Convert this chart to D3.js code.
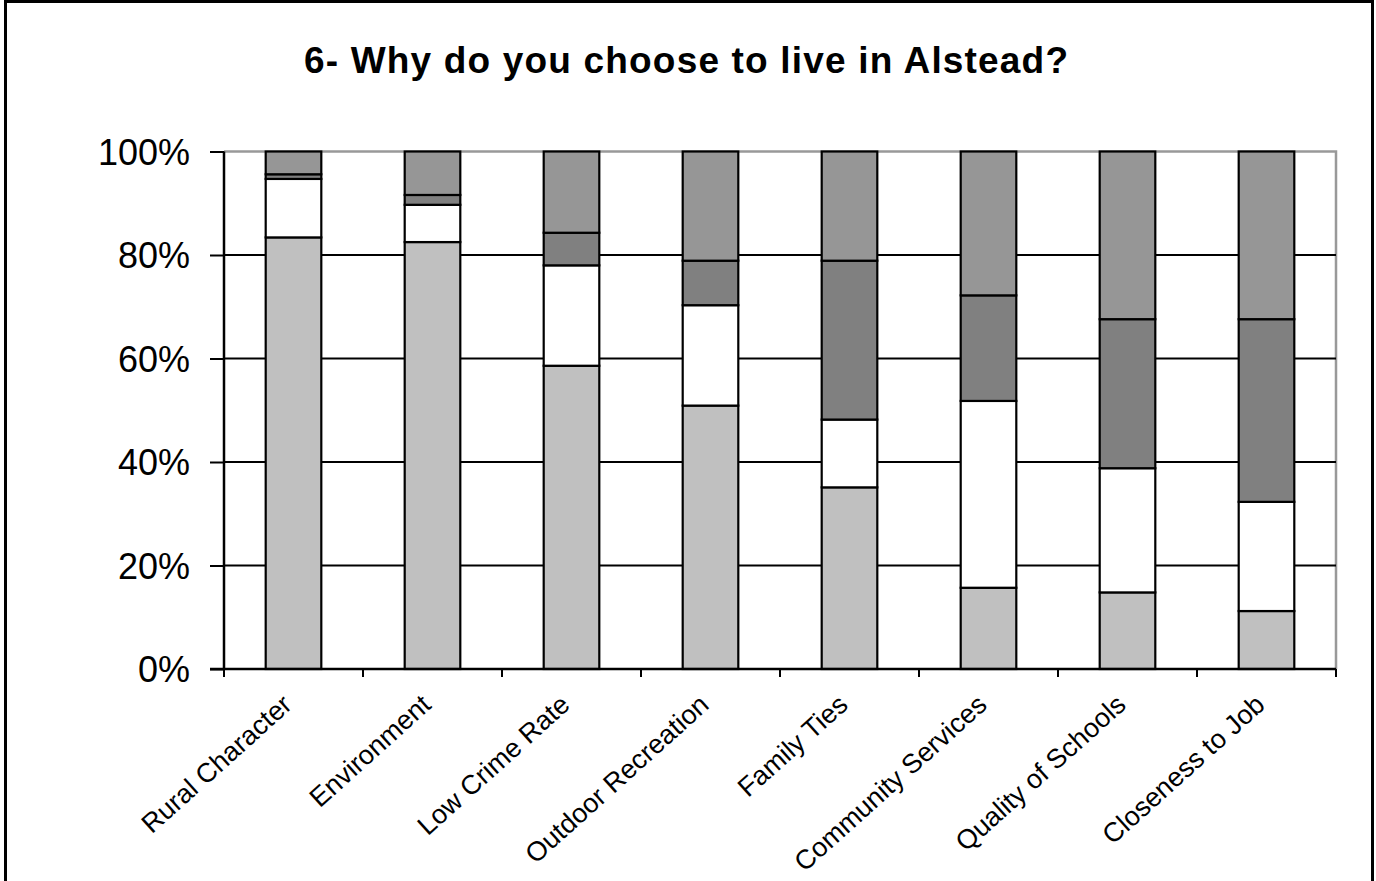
<!DOCTYPE html>
<html><head><meta charset="utf-8">
<script src="https://cdn.jsdelivr.net/npm/d3@7"></script>
<style>body{margin:0;background:#fff}svg{display:block}</style>
</head><body>
<svg id="c" width="1376" height="881"></svg>
<script>
const categories = ["Rural Character","Environment","Low Crime Rate","Outdoor Recreation","Family Ties","Community Services","Quality of Schools","Closeness to Job"];
const seriesA = [83.4, 82.5, 58.6, 50.9, 35.1, 15.7, 14.8, 11.2]; // bottom, light gray
const seriesB = [11.3, 7.2, 19.4, 19.4, 13.1, 36.1, 24.0, 21.1]; // white
const seriesC = [0.9, 1.9, 6.3, 8.6, 30.7, 20.4, 28.8, 35.3];   // dark gray
const seriesD = [4.4, 8.4, 15.7, 21.1, 21.1, 27.8, 32.4, 32.4];  // top, mid gray
const yTicks = [0, 20, 40, 60, 80, 100];
const title = "6- Why do you choose to live in Alstead?";

const svg = d3.select("#c");
const font = "'Liberation Sans', Arial, sans-serif";
const m = {left: 224, right: 1336, top: 151.5, bottom: 669};

svg.append("rect").attr("x",5.5).attr("y",1.5).attr("width",1367).attr("height",895)
  .attr("fill","none").attr("stroke","#000").attr("stroke-width",3);

svg.append("text").attr("x",686).attr("y",73).attr("text-anchor","middle")
  .attr("font-family",font).attr("font-weight","bold").attr("font-size",37)
  .attr("textLength",764).attr("lengthAdjust","spacing").text(title);

const x = d3.scaleBand().domain(categories).range([m.left, m.right]).paddingInner(0.6).paddingOuter(0.3);
const xb = d3.scaleBand().domain(categories).range([m.left, m.right]);
const y = d3.scaleLinear().domain([0,100]).range([m.bottom, m.top]);

// plot frame (gray top & right)
svg.append("path").attr("d",`M${m.left},${y(100)}H${m.right}V${y(0)}`).attr("fill","none").attr("stroke","#999").attr("stroke-width",2.5);

// gridlines
svg.append("g").selectAll("line").data(yTicks.filter(t=>t>0 && t<100)).join("line")
  .attr("x1",m.left).attr("x2",m.right).attr("y1",d=>y(d)).attr("y2",d=>y(d))
  .attr("stroke","#000").attr("stroke-width",2);

// stacked bars
const rows = categories.map((c,i)=>({cat:c, A:seriesA[i], B:seriesB[i], C:seriesC[i], D:seriesD[i]}));
const keys = ["A","B","C","D"];
const colors = {A:"#c0c0c0", B:"#ffffff", C:"#808080", D:"#969696"};
const stack = d3.stack().keys(keys)(rows);
svg.append("g").selectAll("g").data(stack).join("g").attr("fill",s=>colors[s.key])
  .selectAll("rect").data(s=>s).join("rect")
  .attr("x",d=>x(d.data.cat)).attr("width",x.bandwidth())
  .attr("y",d=>y(d[1])).attr("height",d=>y(d[0])-y(d[1]))
  .attr("stroke","#000").attr("stroke-width",2.2);

// y axis
const ya = svg.append("g").attr("transform",`translate(${m.left},0)`)
  .call(d3.axisLeft(y).tickValues(yTicks).tickFormat(d=>d+"%").tickSize(14).tickPadding(20));
ya.select(".domain").attr("stroke","#000").attr("stroke-width",2.5).attr("d",`M0,${y(100)}V${y(0)}`);
ya.selectAll(".tick line").attr("stroke","#000").attr("stroke-width",2);
ya.selectAll("text").attr("font-family",font).attr("font-size",36).attr("fill","#000").attr("dy","0.36em");

// x axis
const xa = svg.append("g").attr("transform",`translate(0,${m.bottom})`);
xa.append("line").attr("x1",m.left-14).attr("x2",m.right).attr("stroke","#000").attr("stroke-width",2.5);
const bounds = categories.map(c=>xb(c)).concat([m.right]);
xa.selectAll("line.tk").data(bounds).join("line").attr("class","tk")
  .attr("x1",d=>d).attr("x2",d=>d).attr("y1",0).attr("y2",8).attr("stroke","#000").attr("stroke-width",2);
xa.selectAll("text").data(categories).join("text")
  .attr("transform",d=>`translate(${xb(d)+xb.bandwidth()/2},${38}) rotate(-42)`)
  .attr("text-anchor","end").attr("font-family",font).attr("font-size",27).attr("fill","#000")
  .text(d=>d);
</script>
</body></html>
